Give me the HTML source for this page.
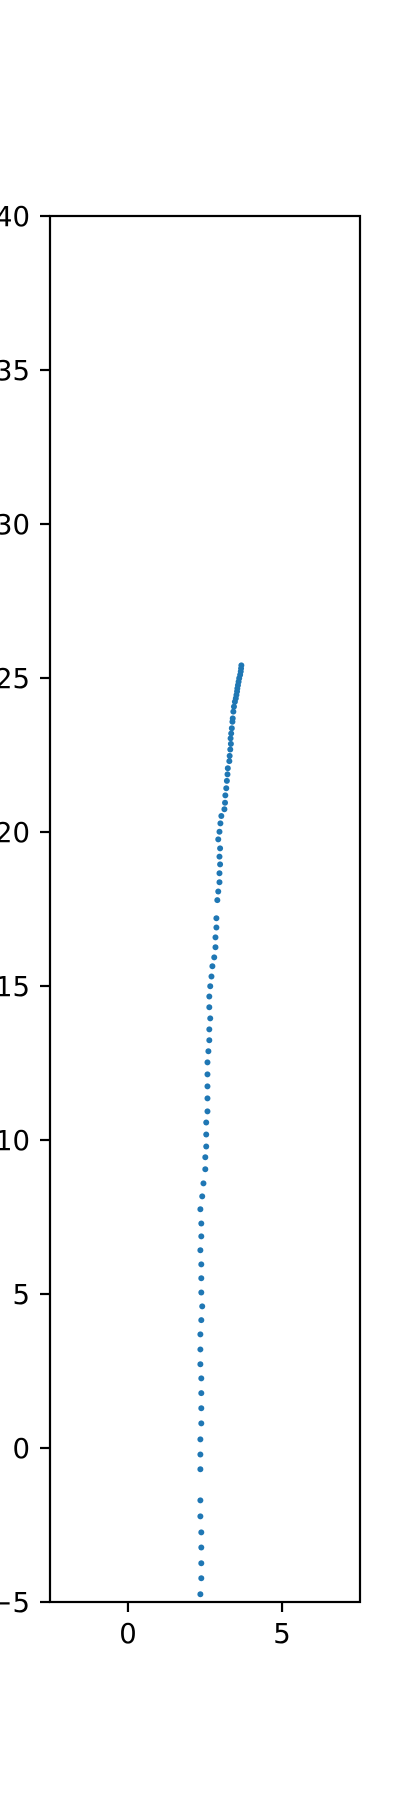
<!DOCTYPE html>
<html><head><meta charset="utf-8"><style>
html,body{margin:0;padding:0;background:#fff;}
svg{display:block;}
text{font-family:"DejaVu Sans","Liberation Sans",sans-serif;font-size:27.5px;fill:#000;}
</style></head><body>
<svg id="chart" width="400" height="1800" viewBox="0 0 400 1800" xmlns="http://www.w3.org/2000/svg">
<rect x="0" y="0" width="400" height="1800" fill="#fff"/>
<g id="marks"></g>
<g id="axes"></g>
</svg>
<script>
const xValues = [3.68,3.67,3.66,3.64,3.61,3.59,3.57,3.55,3.54,3.52,3.50,3.47,3.44,3.42,3.40,3.39,3.37,3.35,3.33,3.34,3.32,3.30,3.29,3.24,3.23,3.21,3.19,3.16,3.15,3.13,3.03,3.00,2.97,2.93,2.99,2.97,2.99,2.97,2.97,2.93,2.90,2.87,2.87,2.84,2.84,2.80,2.74,2.71,2.67,2.64,2.64,2.67,2.64,2.64,2.61,2.58,2.58,2.58,2.58,2.58,2.54,2.54,2.54,2.51,2.51,2.45,2.41,2.35,2.38,2.38,2.35,2.38,2.38,2.38,2.41,2.38,2.35,2.35,2.35,2.38,2.38,2.38,2.38,2.35,2.35,2.35,2.35,2.35,2.38,2.38,2.38,2.38,2.35];
const yValues = [25.41,25.31,25.21,25.10,24.99,24.88,24.77,24.66,24.56,24.45,24.34,24.23,24.07,23.91,23.69,23.58,23.37,23.20,23.04,22.86,22.68,22.47,22.30,22.07,21.87,21.66,21.42,21.19,20.95,20.74,20.52,20.28,20.01,19.76,19.47,19.20,18.95,18.66,18.37,18.07,17.79,17.20,16.90,16.58,16.26,15.93,15.64,15.31,14.99,14.66,14.31,13.95,13.59,13.24,12.88,12.52,12.13,11.74,11.35,10.93,10.57,10.18,9.79,9.44,9.05,8.59,8.17,7.75,7.29,6.87,6.42,5.96,5.51,5.05,4.60,4.15,3.69,3.20,2.72,2.26,1.78,1.29,0.80,0.28,-0.21,-0.69,-1.70,-2.22,-2.74,-3.23,-3.74,-4.23,-4.75];
const xTicks = [0,5];
const yTicks = [-5,0,5,10,15,20,25,30,35,40];
const xDomain = [-2.53,7.53];
const yDomain = [-5,40];

const L=50,R=360,T=216,B=1602;
const NS='http://www.w3.org/2000/svg';
const sx=v=>L+(v-xDomain[0])/(xDomain[1]-xDomain[0])*(R-L);
const sy=v=>B-(v-yDomain[0])/(yDomain[1]-yDomain[0])*(B-T);
const marks=document.getElementById('marks');
const axes=document.getElementById('axes');
function mk(tag,attrs,parent){const e=document.createElementNS(NS,tag);for(const k in attrs)e.setAttribute(k,attrs[k]);parent.appendChild(e);return e;}

for(let i=0;i<xValues.length;i++){
  const c=mk('circle',{cx:sx(xValues[i]),cy:sy(yValues[i]),r:3,fill:'#1f77b4'},marks);
  
  
}
const frame=mk('rect',{x:L,y:T,width:R-L,height:B-T,fill:'none',stroke:'#000','stroke-width':2.2},axes);



xTicks.forEach(v=>{
  const x=sx(v);
  const t=mk('line',{x1:x,x2:x,y1:B,y2:B+10,stroke:'#000','stroke-width':2.2},axes);
  
  
  const lb=mk('text',{x:x,y:1643,'text-anchor':'middle'},axes);
  lb.textContent=String(v);
  
  
});
yTicks.forEach(v=>{
  const y=sy(v);
  const t=mk('line',{x1:L-10,x2:L,y1:y,y2:y,stroke:'#000','stroke-width':2.2},axes);
  
  
  const lb=mk('text',{x:30,y:y+10,'text-anchor':'end'},axes);
  lb.textContent=v<0?'\u2212'+Math.abs(v):String(v);
  
  
});
</script>
</body></html>
